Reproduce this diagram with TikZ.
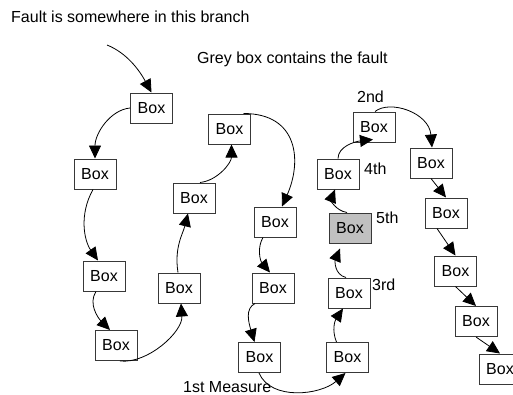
\documentclass[tikz,border=0pt]{standalone}
\usepackage{fontspec}
\setmainfont{Liberation Sans}
\usetikzlibrary{arrows.meta,calc}

\definecolor{boxedge}{HTML}{383838}
\definecolor{faultgrey}{HTML}{C0C0C0}

\tikzset{
  boxnode/.style={draw=boxedge, line width=1pt, fill=white, minimum width=42pt,
    minimum height=30pt, inner sep=0pt, font=\fontsize{16}{19}\selectfont},
  faultbox/.style={boxnode, fill=faultgrey},
  lbl/.style={anchor=base west, inner sep=0pt, font=\fontsize{16}{19}\selectfont},
  link/.style={draw=black, line width=0.8pt, -{Triangle[length=13pt,width=12pt]}},
}

\begin{document}
\begin{tikzpicture}[x=1pt,y=-1pt]
  \useasboundingbox (0,0) rectangle (513,394);
  \clip (0,0) rectangle (513,394);

  % captions
  \node[lbl] (cap1) at (11,22) {Fault is somewhere in this branch};
  \node[lbl] (cap2) at (197,63) {Grey box contains the fault};

  % the search path through the branch
  \node[boxnode] (b1)  at (151.5,108) {Box};
  \node[boxnode] (b2)  at (95,174)    {Box};
  \node[boxnode] (b3)  at (104,276)   {Box};
  \node[boxnode] (b4)  at (116,345.5) {Box};
  \node[boxnode] (b5)  at (179,288)   {Box};
  \node[boxnode] (b6)  at (194,198)   {Box};
  \node[boxnode] (b7)  at (229.5,129) {Box};
  \node[boxnode] (b8)  at (275,222)   {Box};
  \node[boxnode] (b9)  at (273,288)   {Box};
  \node[boxnode] (b10) at (259.5,357.5) {Box};
  \node[boxnode] (b11) at (347.5,357.5) {Box};
  \node[boxnode] (b12) at (349,293)   {Box};
  \node[faultbox] (grey) at (350,228) {Box};
  \node[boxnode] (b14) at (338,174)   {Box};
  \node[boxnode] (b15) at (374,127)   {Box};
  \node[boxnode] (r1)  at (431,163)   {Box};
  \node[boxnode] (r2)  at (446,213)   {Box};
  \node[boxnode] (r3)  at (455.5,271) {Box};
  \node[boxnode] (r4)  at (476,321.5) {Box};
  \node[boxnode] (r5)  at (500,369)   {Box};

  % measurement labels
  \node[lbl] (m1) at (183,392) {1st Measure};
  \node[lbl] (m2) at (357,102) {2nd};
  \node[lbl] (m3) at (372,290) {3rd};
  \node[lbl] (m4) at (364,174) {4th};
  \node[lbl] (m5) at (376,223) {5th};

  % entry into the branch
  \coordinate (entry) at (107,45);
  \draw[link] (entry) .. controls +(20,8) and +(-12,-22) .. (b1.north);

  % curved links
  \draw[link] (b1.west) .. controls +(-20,2) and +(0,-25) .. (b2.north);
  \draw[link] ([xshift=-2pt]b2.south) .. controls +(-14,25) and +(-14,-20) .. ([xshift=-6pt]b3.north);
  \draw[link] ([xshift=-8pt]b3.south) .. controls +(-8,12) and +(-12,-12) .. ([xshift=-6pt]b4.north);
  \draw[link] ([xshift=4pt]b4.south) .. controls +(28,3) and +(2,28) .. ([xshift=2pt]b5.south);
  \draw[link] ([xshift=-1pt]b5.north) .. controls +(-4,-25) and +(-5,20) .. ([xshift=-6pt]b6.south);
  \draw[link] ([xshift=6pt]b6.north) .. controls +(18,-2) and +(0,18) .. ([xshift=2pt]b7.south);
  \draw[link] ([xshift=14pt]b7.north) .. controls +(55,0) and +(20,-45) .. ([xshift=7pt]b8.north);
  \draw[link] ([xshift=-12pt]b8.south) .. controls +(-6,10) and +(-10,-12) .. ([xshift=-3pt]b9.north);
  \draw[link] ([xshift=-18pt]b9.south) .. controls +(-10,5) and +(-6,-20) .. ([xshift=-5pt]b10.north);
  \draw[link] ([xshift=-0.5pt]b10.south) .. controls +(12,28) and +(-25,22) .. ([xshift=-2pt]b11.south);
  \draw[link] ([xshift=-11pt]b11.north) .. controls +(-5,-12) and +(-8,12) .. ([xshift=-6pt]b12.south);
  \draw[link] ([xshift=-3pt]b12.north) .. controls +(-12,-3) and +(-5,12) .. ($(grey.south)+(-10,5)$);
  \draw[link] ([xshift=-3pt]grey.north) .. controls +(-12,-2) and +(-4,10) .. ([xshift=-3pt]b14.south);
  \draw[link] (b14.north) .. controls +(0,-12) and +(-18,2) .. ($(b15.south)+(-1,-3)$);
  \draw[link] ([xshift=1pt]b15.north) .. controls +(15,-12) and +(-3,-35) .. ([xshift=1pt]r1.north);

  % straight run down the right side
  \draw[link] (r1.south) -- (r2.north);
  \draw[link] ([xshift=-9pt]r2.south) -- (r3.north);
  \draw[link] (r3.south) -- (r4.north);
  \draw[link] (r4.south) -- (r5.north);
\end{tikzpicture}
\end{document}
